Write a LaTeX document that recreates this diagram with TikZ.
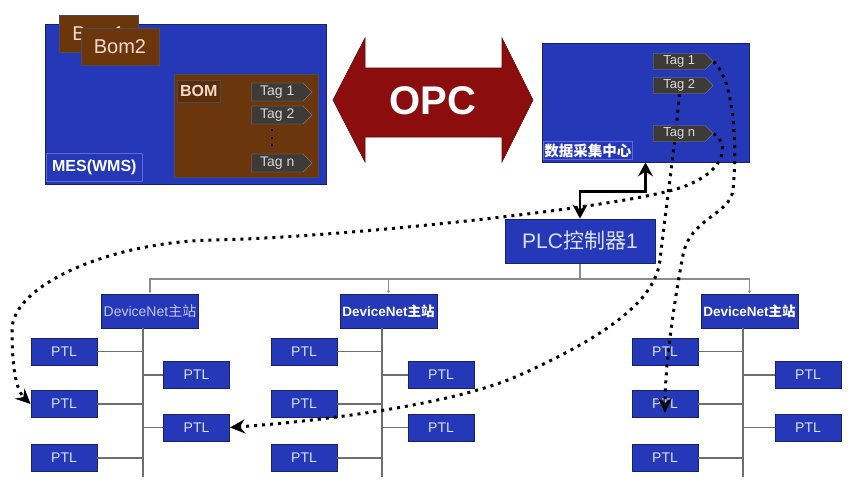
\documentclass[tikz,border=0pt]{standalone}
\usepackage{fontspec}
\setmainfont{Liberation Sans}
\newfontfamily\cjk{Noto Sans CJK SC}
\usepackage{tikz}
\usetikzlibrary{arrows.meta,shapes.symbols}
\definecolor{mesblue}{HTML}{2438B8}
\definecolor{boxedge}{HTML}{16226E}
\definecolor{labeledge}{HTML}{5A6AD8}
\definecolor{bombrown}{HTML}{6B360B}
\definecolor{bomtext}{HTML}{F2D9CE}
\definecolor{tagfill}{HTML}{3D3A37}
\definecolor{tagtext}{HTML}{D9D9D9}
\definecolor{opcred}{HTML}{8C0D0D}
\definecolor{busgray}{HTML}{8C8C8C}
\definecolor{stemgray}{HTML}{6E6E6E}
\definecolor{ptltext}{HTML}{DCE0F8}
\pgfdeclarelayer{front}
\pgfsetlayers{main,front}
\tikzset{
  panel/.style={draw=boxedge, fill=mesblue, line width=0.8pt, inner sep=0pt},
  panellabel/.style={draw=labeledge, fill=mesblue, line width=0.6pt, inner sep=1pt, text=white},
  bombox/.style={draw=black!70, fill=bombrown, line width=0.6pt, inner sep=0pt, text=bomtext},
  bomtitle/.style={font=\fontsize{20}{20}\selectfont},
  tag/.style={signal, draw=black!45, fill=tagfill, text=tagtext, inner sep=1pt,
    minimum width=61pt, minimum height=18pt, font=\fontsize{14}{14}\selectfont},
  dctag/.style={tag, minimum width=60pt, minimum height=16pt, font=\fontsize{13}{13}\selectfont},
  ptl/.style={panel, minimum width=66pt, minimum height=27pt, text=ptltext, font=\fontsize{14}{14}\selectfont},
  dnbox/.style={panel, minimum width=97pt, minimum height=34pt},
  dnthin/.style={text=ptltext!85!mesblue, font=\fontsize{14}{14}\selectfont},
  dnbold/.style={text=white, font=\bfseries\fontsize{13.5}{14}\selectfont},
  stem/.style={draw=stemgray, line width=1.1pt},
  bus/.style={draw=busgray, line width=1.4pt},
  link/.style={line width=2.8pt, {Stealth[length=14pt,width=15pt,inset=5pt]}-{Stealth[length=14pt,width=15pt,inset=5pt]}},
  flow/.style={line width=3pt, dash pattern=on 3pt off 5pt, -{Stealth[length=15pt,width=14pt,inset=5pt]}}
}
\begin{document}
\begin{tikzpicture}[x=1pt,y=-1pt]
  \useasboundingbox[fill=white] (0,0) rectangle (868,490);
  % MES side
  \node[panel, minimum width=281pt, minimum height=160pt] (mes) at (185.5,104) {};
  \node[bombox, bomtitle, minimum width=79pt, minimum height=37pt] (bom1) at (98.5,33.5) {Bom1};
  \node[bombox, bomtitle, minimum width=78pt, minimum height=37pt] (bom2) at (120,46.5) {Bom2};
  \node[bombox, minimum width=144pt, minimum height=103pt] (bom) at (246,125.5) {};
  \node[bombox, fill=bombrown!85!black, anchor=north west, minimum width=43pt, minimum height=22pt,
    font=\bfseries\fontsize{16}{16}\selectfont] (bomlabel) at (177,80) {BOM};
  \node[tag, anchor=west] (btag1) at (251,92) {Tag 1};
  \node[tag, anchor=west] (btag2) at (251,115) {Tag 2};
  \node[tag, anchor=west] (btagn) at (251,163) {Tag n};
  \draw[line width=2pt, dash pattern=on 2pt off 5.5pt, shorten <=5pt, shorten >=6pt]
    ([xshift=-5pt]btag2.south) -- ([xshift=-5pt]btagn.north);
  \node[panellabel, anchor=south west, minimum width=96pt, minimum height=28pt,
    font=\bfseries\fontsize{16}{16}\selectfont] (meslabel) at (46,182) {MES(WMS)};
  % OPC arrow
  \fill[opcred, draw=opcred!70!black, line width=0.6pt] (333,100) -- (365,38) -- (365,68) -- (502,68)
    -- (502,38) -- (533,100) -- (502,162) -- (502,137) -- (365,137) -- (365,162) -- cycle;
  \node[text=white, font=\bfseries\fontsize{40}{40}\selectfont] (opc) at (433,101) {OPC};
  % data centre
  \node[panel, minimum width=207pt, minimum height=119pt] (dc) at (645.5,102.5) {};
  \node[panellabel, anchor=south west, minimum width=89pt, minimum height=18pt,
    font=\cjk\bfseries\fontsize{14.5}{15}\selectfont] (dclabel) at (543,160) {数据采集中心};
  \begin{pgfonlayer}{front}
    \node[dctag, anchor=west] (dtag1) at (653,61.5) {Tag 1};
    \node[dctag, anchor=west] (dtag2) at (653,85.5) {Tag 2};
    \node[dctag, anchor=west] (dtagn) at (653,133.5) {Tag n};
    \node[panel, minimum width=150pt, minimum height=44pt, text=ptltext,
      font=\fontsize{21}{21}\selectfont] (plc) at (580,241) {PLC{\cjk 控制器}1};
  \end{pgfonlayer}
  \draw[link] (plc.north) -- ++(0,-27) -| (dc.south);
  % DeviceNet groups
  \foreach \g/\v/\dx/\lx/\rx/\dnf in {1/143/150/64/196.5/dnthin, 2/382/388.5/304/441/dnbold, 3/743/749.5/665/808/dnbold}{
    \node[dnbox, \dnf] (dn\g) at (\dx,311) {DeviceNet{\cjk 主站}};
    \coordinate (vbot\g) at (\v,477);
    \draw[stem] (dn\g.south -| vbot\g) -- (vbot\g);
    \foreach \r/\y in {1/351.5, 2/404, 3/458}{
      \node[ptl] (ptl\g l\r) at (\lx,\y) {PTL};
      \draw[stem] (ptl\g l\r) -- (ptl\g l\r -| vbot\g);
    }
    \foreach \r/\y in {1/375, 2/427.5}{
      \node[ptl] (ptl\g r\r) at (\rx,\y) {PTL};
      \draw[stem] (ptl\g r\r) -- (ptl\g r\r -| vbot\g);
    }
  }
  \coordinate (busline) at (0,279);
  \draw[bus, {Latex[length=3pt,width=3pt]}-{Latex[length=3pt,width=3pt]}] (dn1.north) |- (busline -| dn3.north) -- (dn3.north);
  \draw[bus, -{Latex[length=3pt,width=3pt]}] (busline -| dn2.north) -- (dn2.north);
  \draw[bus] (plc.south) -- (plc.south |- busline);
  % tag flows
  \draw[flow] (dtagn.east) .. controls (732,145) and (724,176) .. (673,190)
    .. controls (600,210) and (330,238) .. (213,240)
    .. controls (110,242) and (12,285) .. (12,330)
    .. controls (12,375) and (18,392) .. (ptl1l2.west);
  \draw[flow] (dtag2.south) .. controls (676,140) and (668,190) .. (660,260)
    .. controls (656,295) and (620,330) .. (520,375)
    .. controls (453,405) and (320,421) .. (ptl1r2.east);
  \draw[flow] (dtag1.east) .. controls (735,80) and (737,150) .. (733,190)
    .. controls (730,215) and (690,218) .. (683,255)
    .. controls (676,292) and (665,360) .. ([yshift=-9pt]ptl3l2.center);
\end{tikzpicture}
\end{document}
